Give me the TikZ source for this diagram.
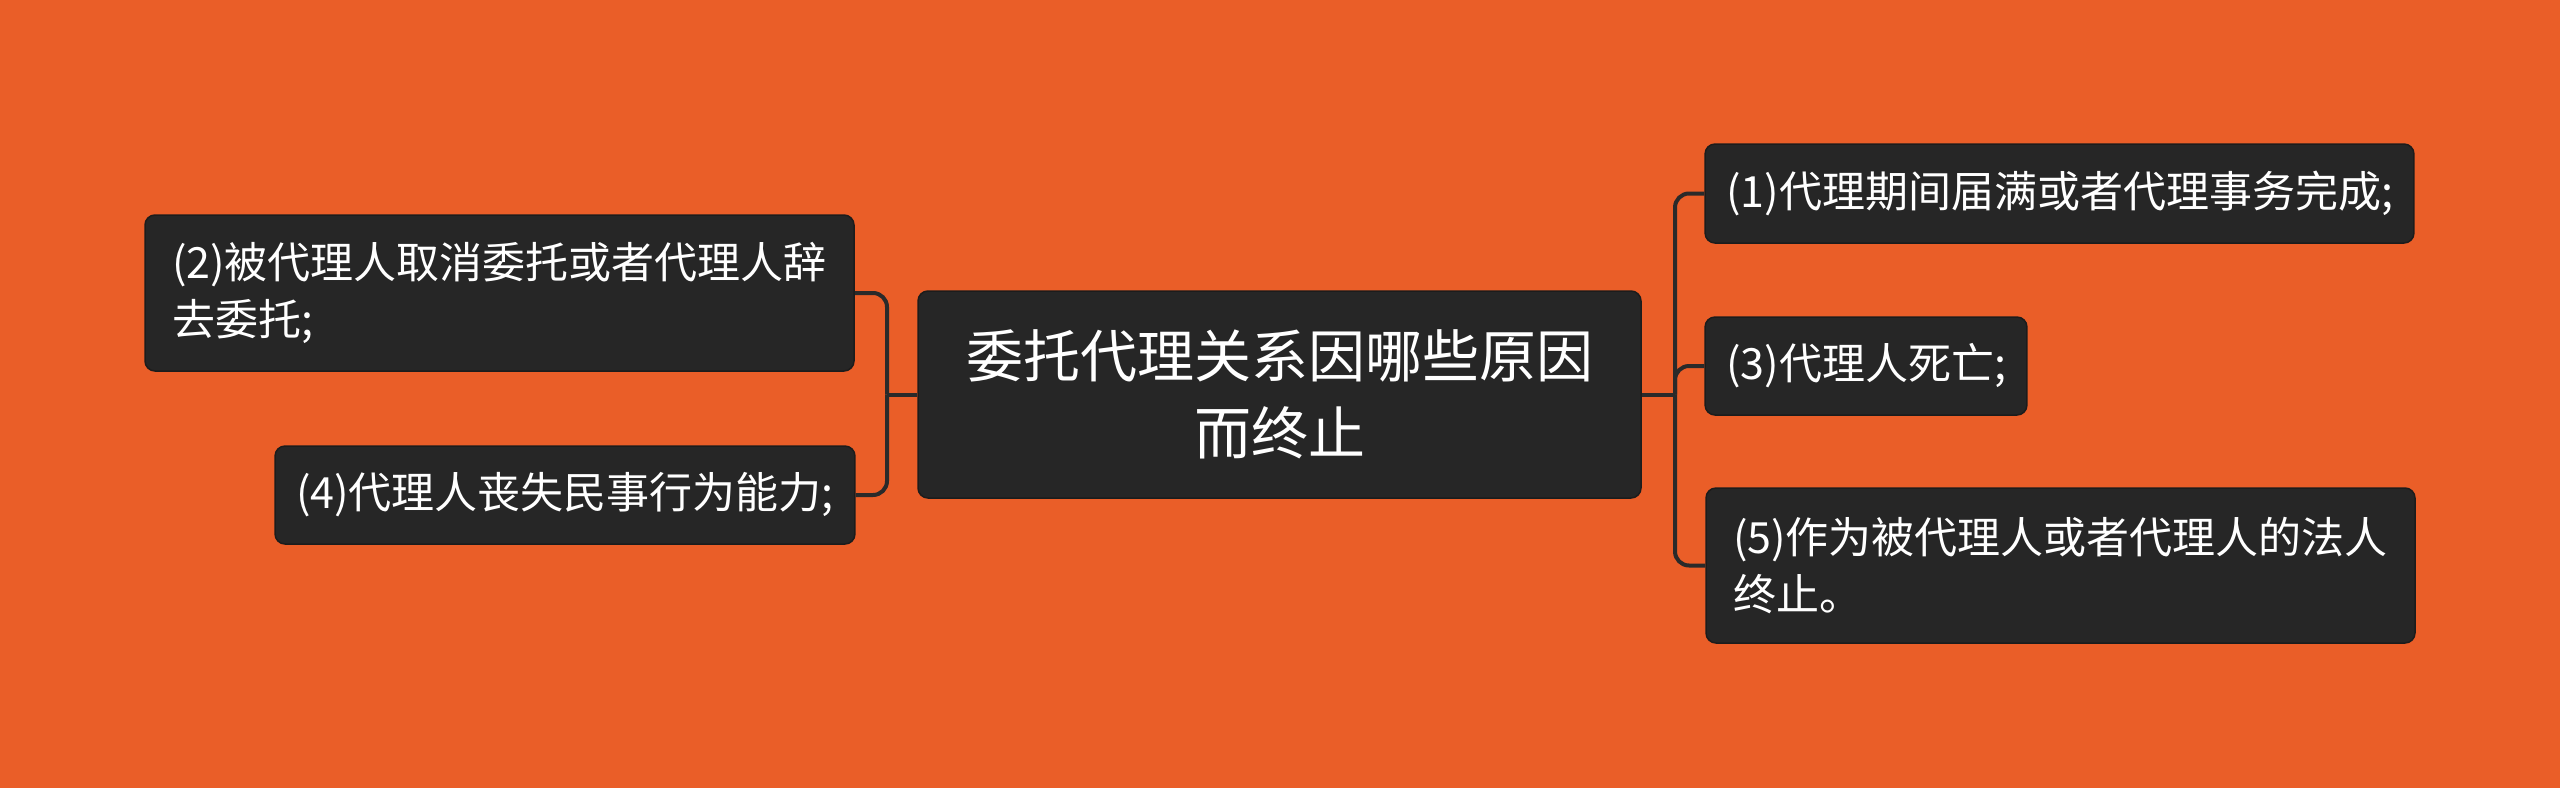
\documentclass[tikz,border=0pt]{standalone}
\usepackage{fontspec}
\setmainfont{Noto Sans CJK SC}
\definecolor{bgorange}{HTML}{EA5E28}
\definecolor{boxfill}{HTML}{262626}
\definecolor{boxline}{HTML}{1C1C1C}
\definecolor{connline}{HTML}{2A2A2A}
\begin{document}
\begin{tikzpicture}[x=1pt,y=-1pt,
  box/.style={draw=boxline, line width=1.5pt, fill=boxfill, rounded corners=10pt, text=white, inner xsep=21pt, inner ysep=0pt, align=left, font=\fontsize{43}{57}\selectfont},
  rootbox/.style={box, align=center, font=\fontsize{57}{77}\selectfont},
  conn/.style={draw=connline, line width=4pt, rounded corners=14pt}]
\useasboundingbox[fill=bgorange] (0,0) rectangle (2560,788);
\node[rootbox, minimum width=723pt, minimum height=207pt] (c) at (1279.5,394.5) {委托代理关系因哪些原因\\而终止};
\node[box, minimum width=707pt, minimum height=99pt] (n1) at (2059.5,193.5) {(1)代理期间届满或者代理事务完成;};
\node[box, minimum width=320pt, minimum height=98pt] (n3) at (1866,366) {(3)代理人死亡;};
\node[box, minimum width=709pt, minimum height=155pt] (n5) at (2060.5,565.5) {(5)作为被代理人或者代理人的法人\\终止。};
\node[box, minimum width=709pt, minimum height=156pt] (n2) at (499.5,293) {(2)被代理人取消委托或者代理人辞\\去委托;};
\node[box, minimum width=578pt, minimum height=98pt] (n4) at (565,495) {(4)代理人丧失民事行为能力;};
\coordinate (rb) at (1675,394.5);
\coordinate (lb) at (887,394.5);
\draw[conn] (c.east) -- (rb);
\draw[conn] (rb) |- (n1.west);
\draw[conn] (rb) |- (n3.west);
\draw[conn] (rb) |- (n5.west);
\draw[conn] (c.west) -- (lb);
\draw[conn] (lb) |- (n2.east);
\draw[conn] (lb) |- (n4.east);
\end{tikzpicture}
\end{document}
